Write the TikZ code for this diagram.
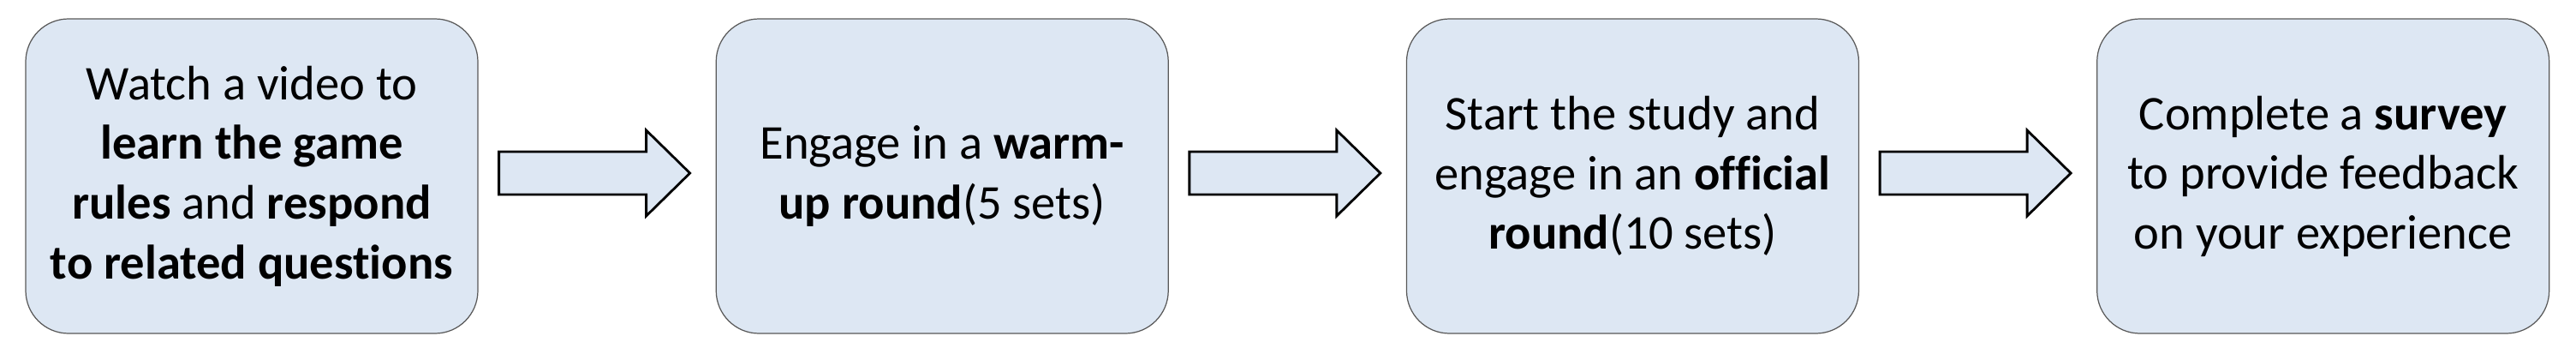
\documentclass[tikz,border=0pt]{standalone}
\usepackage{fontspec}
\setmainfont{Carlito}[Ligatures=NoCommon]
\usepackage{xcolor}
\usepackage{tikz}
\usetikzlibrary{calc,positioning}

\definecolor{boxfill}{RGB}{221,231,243}

\begin{document}
\begin{tikzpicture}[
    taskbox/.style={
        draw=black!65,
        line width=0.35pt,
        fill=boxfill,
        rounded corners=0.5cm,
        minimum width=5.28cm,
        minimum height=3.67cm,
        inner sep=0pt,
        align=center,
        font=\fontsize{16.1pt}{19.8pt}\selectfont
    },
    flowarrow/.style={
        draw=black,
        line width=0.8pt,
        fill=boxfill,
        to path={
            ($(\tikztostart)+(0.24,0.285)$)
            -- ($(\tikztotarget)+(-0.81,0.285)$)
            -- ($(\tikztotarget)+(-0.81,0.535)$)
            -- ($(\tikztotarget)+(-0.30,0.035)$)
            -- ($(\tikztotarget)+(-0.81,-0.465)$)
            -- ($(\tikztotarget)+(-0.81,-0.215)$)
            -- ($(\tikztostart)+(0.24,-0.215)$)
            -- cycle
        }
    }
]
\useasboundingbox (0,0) rectangle (30.08,4.12);

% Steps
\node[taskbox] (watch) at (2.94,2.065)
{Watch a video to\\
\textbf{learn the game}\\
\textbf{rules} and \textbf{respond}\\
\textbf{to related questions}};

\node[taskbox,right=2.77cm of watch] (warmup)
{Engage in a \textbf{warm-}\\
\textbf{up round}(5 sets)};

\node[taskbox,right=2.77cm of warmup] (official)
{Start the study and\\
engage in an \textbf{official}\\
\textbf{round}(10 sets)};

\node[taskbox,right=2.77cm of official] (survey)
{Complete a \textbf{survey}\\
to provide feedback\\
on your experience};

% Arrows
\draw[flowarrow] (watch.east) to (warmup.west);
\draw[flowarrow] (warmup.east) to (official.west);
\draw[flowarrow] (official.east) to (survey.west);

\end{tikzpicture}
\end{document}
